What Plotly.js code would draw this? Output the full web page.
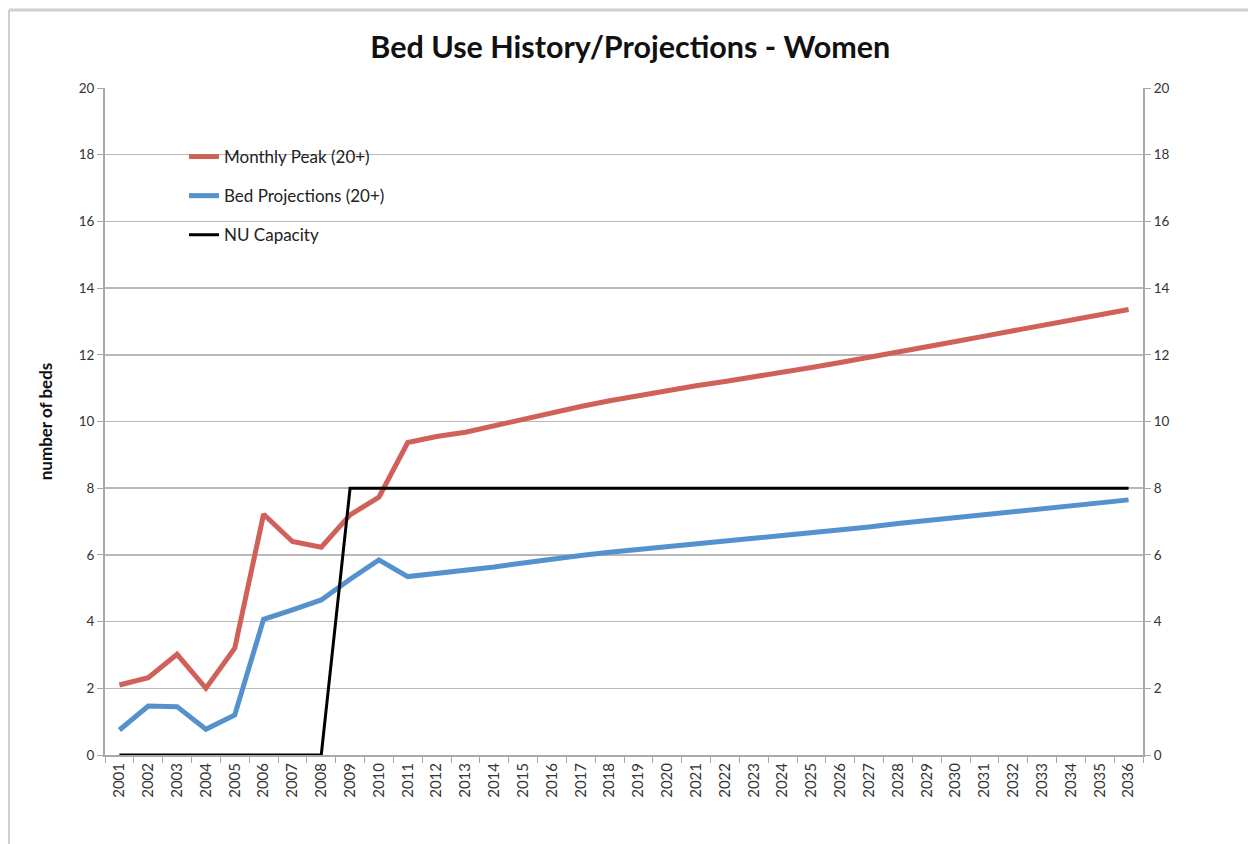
<!DOCTYPE html>
<html>
<head>
<meta charset="utf-8">
<script src="https://cdn.plot.ly/plotly-3.0.1.min.js"></script>
<style>
html,body{margin:0;padding:0;background:#fff;}
#chart{width:1248px;height:844px;}
</style>
</head>
<body>
<div id="chart"></div>
<script>
const years = ["2001","2002","2003","2004","2005","2006","2007","2008","2009","2010",
  "2011","2012","2013","2014","2015","2016","2017","2018","2019","2020",
  "2021","2022","2023","2024","2025","2026","2027","2028","2029","2030",
  "2031","2032","2033","2034","2035","2036"];

const monthlyPeak = [2.1,2.32,3.02,2.0,3.2,7.22,6.4,6.23,7.2,7.73,
  9.37,9.55,9.68,9.88,10.08,10.27,10.45,10.62,10.78,10.93,
  11.07,11.2,11.33,11.47,11.62,11.77,11.92,12.08,12.24,12.4,
  12.56,12.72,12.88,13.04,13.2,13.36];

const bedProjections = [0.75,1.47,1.45,0.77,1.2,4.07,4.35,4.65,5.27,5.85,
  5.35,5.45,5.52,5.64,5.76,5.88,5.98,6.08,6.17,6.26,
  6.34,6.42,6.5,6.58,6.66,6.75,6.84,6.94,7.03,7.12,
  7.21,7.3,7.4,7.5,7.58,7.65];

const nuCapacity = [0,0,0,0,0,0,0,0,8,8,
  8,8,8,8,8,8,8,8,8,8,
  8,8,8,8,8,8,8,8,8,8,
  8,8,8,8,8,8];

const yTicks = [0,2,4,6,8,10,12,14,16,18,20];

const FONT = "Lato, 'Open Sans', sans-serif";

const traces = [
  {x: years, y: monthlyPeak, name: "Monthly Peak (20+)", type: "scatter", mode: "lines",
   line: {color: "#d0615a", width: 5}, legendgroup: "a"},
  {x: years, y: bedProjections, name: "Bed Projections (20+)", type: "scatter", mode: "lines",
   line: {color: "#5592cd", width: 5}, legendgroup: "b"},
  {x: years, y: nuCapacity, name: "NU Capacity", type: "scatter", mode: "lines",
   line: {color: "#000000", width: 3}, legendgroup: "c"}
];

const L = 105, R = 1143, T = 88, B = 755;
const px = v => (v - L) / (R - L);
const py = v => (B - v) / (B - T);

const tickFont = {family: FONT, size: 13.5, color: "#333333"};

const layout = {
  width: 1248, height: 844,
  margin: {l: L, r: 1248 - R, t: T, b: 844 - B, pad: 0},
  paper_bgcolor: "#ffffff",
  plot_bgcolor: "#ffffff",
  font: {family: FONT, size: 11, color: "#333333"},
  title: {text: "<b>Bed Use History/Projections - Women</b>",
          font: {family: FONT, size: 30.5, color: "#111111"},
          x: 0.505, xanchor: "center", y: 1 - 47/844, yanchor: "middle"},
  showlegend: true,
  legend: {x: px(184), xanchor: "left", y: py(139), yanchor: "top",
           bgcolor: "rgba(255,255,255,0)", borderwidth: 0,
           font: {family: FONT, size: 17, color: "#222222"},
           tracegroupgap: 14, itemwidth: 30, traceorder: "grouped"},
  xaxis: {type: "category", categoryorder: "array", categoryarray: years,
          range: [-0.5, 35.5], tickangle: -90, tickson: "boundaries",
          ticks: "outside", ticklen: 6, tickcolor: "#a8a8a8", tickwidth: 1,
          showline: true, linecolor: "#a8a8a8", linewidth: 2,
          showgrid: false, zeroline: false,
          tickfont: {family: FONT, size: 15, color: "#333333"},
          fixedrange: true},
  yaxis: {range: [0, 20], tickvals: yTicks, ticktext: yTicks.map(String),
          ticks: "outside", ticklen: 6, tickcolor: "#a8a8a8", tickwidth: 1,
          showline: true, linecolor: "#a8a8a8", linewidth: 2,
          showgrid: true, gridcolor: "#b8b8b8", gridwidth: 1.5, zeroline: false,
          tickfont: tickFont,
          title: {text: "<b>number of beds</b>", font: {family: FONT, size: 17, color: "#111111"}, standoff: 22},
          fixedrange: true},
  yaxis2: {range: [0, 20], tickvals: yTicks, ticktext: yTicks.map(String),
           overlaying: "y", side: "right",
           ticks: "outside", ticklen: 6, tickcolor: "#a8a8a8", tickwidth: 1,
           showline: true, linecolor: "#a8a8a8", linewidth: 2,
           showgrid: false, zeroline: false,
           tickfont: tickFont,
           fixedrange: true},
  shapes: [
    {type: "rect", xref: "paper", yref: "paper", layer: "between",
     x0: px(168), x1: px(403), y0: py(136), y1: py(252),
     fillcolor: "#ffffff", line: {width: 0}},
    {type: "line", xref: "paper", yref: "paper", x0: px(9), x1: px(9), y0: py(10), y1: py(844),
     line: {color: "#cfcfcf", width: 2}},
    {type: "line", xref: "paper", yref: "paper", x0: px(9), x1: px(1248), y0: py(10), y1: py(10),
     line: {color: "#cfcfcf", width: 3}}
  ]
};

// keep the right axis drawn by giving it an invisible helper trace
traces.push({x: years, y: nuCapacity, yaxis: "y2", type: "scatter", mode: "lines",
  line: {color: "rgba(0,0,0,0)", width: 0}, showlegend: false, hoverinfo: "skip"});

Plotly.newPlot("chart", traces, layout, {displayModeBar: false, staticPlot: true});
</script>
</body>
</html>
